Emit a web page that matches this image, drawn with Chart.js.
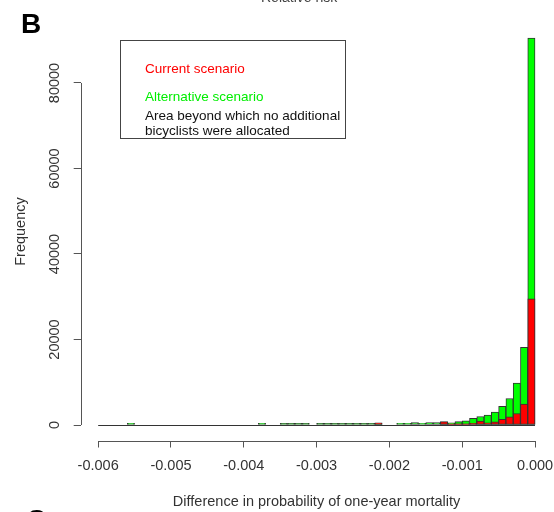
<!DOCTYPE html>
<html>
<head>
<meta charset="utf-8">
<script src="https://cdn.jsdelivr.net/npm/chart.js@4/dist/chart.umd.min.js"></script>
<style>
  html, body { margin:0; padding:0; background:#fff; }
  #wrap { position:relative; width:554px; height:512px; overflow:hidden; font-family:"Liberation Sans", Arial, sans-serif; }
  canvas { position:absolute; left:0; top:0; }
  .t { position:absolute; white-space:nowrap; line-height:1; }
  #legendBox { position:absolute; left:120px; top:40px; width:226px; height:99px; box-sizing:border-box; border:1px solid #444; }
</style>
</head>
<body>
<div id="wrap">
  <canvas id="c" width="554" height="512"></canvas>
  <div class="t" style="left:261px; top:-10.5px; font-size:14px; color:#444;">Relative risk</div>
  <div class="t" style="left:21px; top:10px; font-size:28px; font-weight:bold; color:#000;">B</div>
  <div class="t" style="left:26px; top:506px; font-size:28px; font-weight:bold; color:#000;">C</div>
  <div id="legendBox"></div>
  <div class="t" style="left:145px; top:62px; font-size:13.5px; color:#ff0000;">Current scenario</div>
  <div class="t" style="left:145px; top:90px; font-size:13.5px; color:#00ee00;">Alternative scenario</div>
  <div class="t" style="left:145px; top:109px; font-size:13.5px; color:#111;">Area beyond which no additional</div>
  <div class="t" style="left:145px; top:124px; font-size:13.5px; color:#111;">bicyclists were allocated</div>
</div>
<script>
// Histogram bins (centre of each 0.0001-wide bin), from -0.00595 to -0.00005
const binCenters = [
  -0.00595,-0.00585,-0.00575,-0.00565,-0.00555,-0.00545,-0.00535,-0.00525,-0.00515,-0.00505,
  -0.00495,-0.00485,-0.00475,-0.00465,-0.00455,-0.00445,-0.00435,-0.00425,-0.00415,-0.00405,
  -0.00395,-0.00385,-0.00375,-0.00365,-0.00355,-0.00345,-0.00335,-0.00325,-0.00315,-0.00305,
  -0.00295,-0.00285,-0.00275,-0.00265,-0.00255,-0.00245,-0.00235,-0.00225,-0.00215,-0.00205,
  -0.00195,-0.00185,-0.00175,-0.00165,-0.00155,-0.00145,-0.00135,-0.00125,-0.00115,-0.00105,
  -0.00095,-0.00085,-0.00075,-0.00065,-0.00055,-0.00045,-0.00035,-0.00025,-0.00015,-0.00005
];
const binWidth = 0.0001;

// Current scenario (red) counts
const currentCounts = [
  0,0,0,0,0,0,0,0,0,0,
  0,0,0,0,0,0,0,0,0,0,
  0,0,0,0,0,0,0,0,0,0,
  0,0,0,0,0,0,0,0,500,0,
  0,0,0,0,0,0,0,780,300,300,
  300,400,900,500,750,1350,1900,2700,4900,29500
];

// Alternative scenario (green) counts
const alternativeCounts = [
  0,0,0,0,400,0,0,0,0,0,
  0,0,0,0,0,0,0,0,0,0,
  0,0,400,0,0,380,380,380,380,0,
  380,380,380,380,380,380,380,380,350,0,
  0,420,420,600,420,570,600,700,540,780,
  1000,1550,2000,2300,3000,4400,6200,9800,18200,90500
];

const xTicks = [-0.006,-0.005,-0.004,-0.003,-0.002,-0.001,0.000];
const yTicks = [0,20000,40000,60000,80000];

const FONT = '"Liberation Sans", Arial, sans-serif';

const rAxes = {
  id: 'rAxes',
  beforeDatasetsDraw(chart) {
    const {ctx, scales:{x, y}} = chart;
    ctx.save();
    ctx.strokeStyle = '#333';
    ctx.lineWidth = 1;
    const y0 = Math.round(y.getPixelForValue(0)) + 0.5;
    ctx.beginPath();
    ctx.moveTo(x.getPixelForValue(binCenters[0] - binWidth/2), y0);
    ctx.lineTo(x.getPixelForValue(binCenters[binCenters.length-1] + binWidth/2), y0);
    ctx.stroke();
    ctx.restore();
  },
  afterDraw(chart) {
    const {ctx, chartArea, scales:{x, y}} = chart;
    ctx.save();
    ctx.strokeStyle = '#555';
    ctx.lineWidth = 1;
    const yb = Math.round(chartArea.bottom) + 0.5;
    ctx.beginPath();
    ctx.moveTo(x.getPixelForValue(xTicks[0]), yb);
    ctx.lineTo(x.getPixelForValue(xTicks[xTicks.length-1]), yb);
    ctx.stroke();
    const xl = Math.round(chartArea.left) + 0.5;
    ctx.beginPath();
    ctx.moveTo(xl, y.getPixelForValue(yTicks[0]));
    ctx.lineTo(xl, y.getPixelForValue(yTicks[yTicks.length-1]));
    ctx.stroke();
    ctx.restore();
  }
};

new Chart(document.getElementById('c'), {
  type: 'bar',
  data: {
    datasets: [
      {
        label: 'Current scenario',
        data: binCenters.map((c, i) => ({x: c, y: currentCounts[i]})),
        backgroundColor: '#ff0000',
        borderColor: '#333',
        borderWidth: 1,
        borderSkipped: false,
        grouped: false,
        barPercentage: 1,
        categoryPercentage: 1
      },
      {
        label: 'Alternative scenario',
        data: binCenters.map((c, i) => ({x: c, y: alternativeCounts[i]})),
        backgroundColor: '#00ff00',
        borderColor: '#333',
        borderWidth: 1,
        borderSkipped: false,
        grouped: false,
        barPercentage: 1,
        categoryPercentage: 1
      }
    ]
  },
  options: {
    responsive: false,
    animation: false,
    devicePixelRatio: 1,
    layout: { padding: { top: 22.6, right: 1.5, left: 0, bottom: 0 } },
    plugins: { legend: { display: false }, tooltip: { enabled: false } },
    scales: {
      x: {
        type: 'linear',
        min: -0.00624,
        max: 0.00024,
        offset: false,
        border: { display: false },
        grid: { offset: false, drawOnChartArea: false, drawTicks: true, tickLength: 7, color: '#555' },
        afterBuildTicks: (s) => { s.ticks = xTicks.map(v => ({value: v})); },
        afterFit: (s) => { s.height = 71.5; s.paddingLeft = 0; s.paddingRight = 0; },
        ticks: {
          color: '#333',
          font: { family: FONT, size: 14.5 },
          padding: 10,
          maxRotation: 0,
          minRotation: 0,
          autoSkip: false,
          callback: (v) => Number(v).toFixed(3)
        },
        title: {
          display: true,
          text: 'Difference in probability of one-year mortality',
          color: '#333',
          font: { family: FONT, size: 14.5 },
          padding: { top: 0, bottom: 1 }
        }
      },
      y: {
        type: 'linear',
        min: -3620,
        max: 94120,
        border: { display: false },
        grid: { offset: false, drawOnChartArea: false, drawTicks: true, tickLength: 7, color: '#555' },
        afterBuildTicks: (s) => { s.ticks = yTicks.map(v => ({value: v})); },
        afterFit: (s) => { s.width = 80.7; s.paddingTop = 0; s.paddingBottom = 0; },
        ticks: {
          color: '#333',
          font: { family: FONT, size: 14.5 },
          padding: -1.5,
          minRotation: 90,
          maxRotation: 90,
          crossAlign: 'center',
          autoSkip: false,
          callback: (v) => String(v)
        },
        title: {
          display: true,
          text: 'Frequency',
          color: '#333',
          font: { family: FONT, size: 14.5 },
          padding: { top: 12, bottom: 0 }
        }
      }
    }
  },
  plugins: [rAxes]
});
</script>
</body>
</html>
